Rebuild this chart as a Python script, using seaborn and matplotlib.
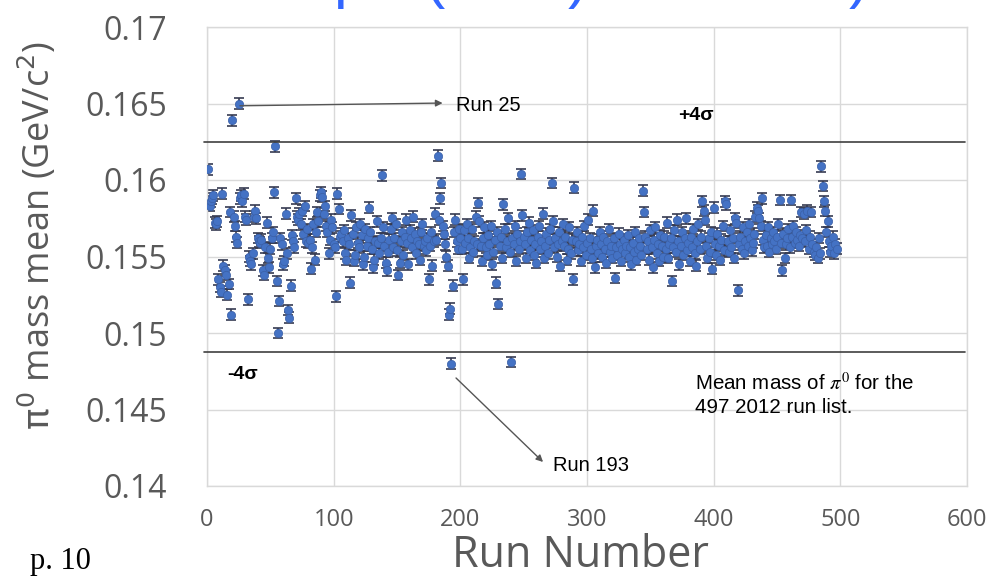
import numpy as np
import pandas as pd
import matplotlib
matplotlib.use("Agg")
import matplotlib.pyplot as plt
import seaborn as sns
from matplotlib.ticker import FuncFormatter

# ---------------- data ----------------
mass_mean = [
    0.1607, 0.1583, 0.1586, 0.1588, 0.1590, 0.1572, 0.1571, 0.1573, 0.1535, 0.1530,
    0.1527, 0.1591, 0.1544, 0.1541, 0.1538, 0.1525, 0.1532, 0.1579, 0.1512, 0.1639,
    0.1576, 0.1570, 0.1563, 0.1559, 0.1650, 0.1588, 0.1590, 0.1586, 0.1591, 0.1576,
    0.1574, 0.1522, 0.1550, 0.1547, 0.1545, 0.1552, 0.1576, 0.1580, 0.1575, 0.1562,
    0.1560, 0.1559, 0.1561, 0.1541, 0.1538, 0.1556, 0.1572, 0.1549, 0.1543, 0.1555,
    0.1562, 0.1566, 0.1592, 0.1622, 0.1534, 0.1500, 0.1521, 0.1562, 0.1558, 0.1545,
    0.1547, 0.1578, 0.1552, 0.1515, 0.1510, 0.1531, 0.1564, 0.1560, 0.1556, 0.1588,
    0.1576, 0.1574, 0.1578, 0.1571, 0.1580, 0.1565, 0.1583, 0.1560, 0.1568, 0.1559,
    0.1561, 0.1542, 0.1556, 0.1571, 0.1548, 0.1566, 0.1579, 0.1573, 0.1590, 0.1592,
    0.1589, 0.1578, 0.1583, 0.1570, 0.1566, 0.1552, 0.1561, 0.1574, 0.1569, 0.1558,
    0.1556, 0.1524, 0.1591, 0.1581, 0.1563, 0.1565, 0.1560, 0.1567, 0.1552, 0.1548,
    0.1562, 0.1558, 0.1533, 0.1577, 0.1565, 0.1547, 0.1551, 0.1569, 0.1559, 0.1556,
    0.1571, 0.1564, 0.1545, 0.1550, 0.1568, 0.1557, 0.1562, 0.1582, 0.1566, 0.1555,
    0.1543, 0.1548, 0.1560, 0.1573, 0.1559, 0.1552, 0.1562, 0.1603, 0.1569, 0.1557,
    0.1546, 0.1541, 0.1553, 0.1561, 0.1568, 0.1575, 0.1556, 0.1562, 0.1571, 0.1554,
    0.1538, 0.1546, 0.1560, 0.1566, 0.1551, 0.1563, 0.1574, 0.1559, 0.1545, 0.1567,
    0.1562, 0.1556, 0.1576, 0.1565, 0.1552, 0.1560, 0.1558, 0.1548, 0.1566, 0.1571,
    0.1557, 0.1560, 0.1554, 0.1562, 0.1535, 0.1557, 0.1566, 0.1544, 0.1560, 0.1578,
    0.1561, 0.1616, 0.1574, 0.1588, 0.1598, 0.1570, 0.1565, 0.1558, 0.1550, 0.1544,
    0.1512, 0.1516, 0.1480, 0.1531, 0.1566, 0.1574, 0.1560, 0.1555, 0.1568, 0.1562,
    0.1555, 0.1535, 0.1567, 0.1559, 0.1571, 0.1562, 0.1549, 0.1556, 0.1568, 0.1553,
    0.1560, 0.1576, 0.1558, 0.1585, 0.1573, 0.1557, 0.1547, 0.1562, 0.1569, 0.1556,
    0.1551, 0.1564, 0.1558, 0.1570, 0.1545, 0.1553, 0.1561, 0.1533, 0.1566, 0.1519,
    0.1557, 0.1563, 0.1549, 0.1584, 0.1568, 0.1556, 0.1560, 0.1575, 0.1553, 0.1481,
    0.1562, 0.1558, 0.1570, 0.1547, 0.1565, 0.1555, 0.1560, 0.1604, 0.1577, 0.1563,
    0.1558, 0.1549, 0.1566, 0.1572, 0.1554, 0.1561, 0.1567, 0.1551, 0.1558, 0.1546,
    0.1563, 0.1570, 0.1555, 0.1560, 0.1578, 0.1549, 0.1557, 0.1565, 0.1552, 0.1561,
    0.1568, 0.1598, 0.1573, 0.1556, 0.1562, 0.1550, 0.1558, 0.1566, 0.1544, 0.1560,
    0.1571, 0.1557, 0.1563, 0.1548, 0.1555, 0.1569, 0.1552, 0.1561, 0.1535, 0.1595,
    0.1560, 0.1566, 0.1554, 0.1558, 0.1547, 0.1563, 0.1556, 0.1570, 0.1551, 0.1559,
    0.1574, 0.1562, 0.1555, 0.1549, 0.1580, 0.1543, 0.1557, 0.1561, 0.1552, 0.1566,
    0.1558, 0.1550, 0.1563, 0.1555, 0.1546, 0.1560, 0.1568, 0.1553, 0.1557, 0.1549,
    0.1562, 0.1536, 0.1556, 0.1551, 0.1565, 0.1558, 0.1547, 0.1555, 0.1561, 0.1552,
    0.1557, 0.1564, 0.1550, 0.1556, 0.1545, 0.1559, 0.1553, 0.1566, 0.1548, 0.1555,
    0.1562, 0.1557, 0.1551, 0.1593, 0.1579, 0.1563, 0.1555, 0.1560, 0.1548, 0.1567,
    0.1556, 0.1543, 0.1561, 0.1569, 0.1552, 0.1558, 0.1547, 0.1564, 0.1557, 0.1550,
    0.1563, 0.1555, 0.1572, 0.1549, 0.1558, 0.1562, 0.1534, 0.1556, 0.1567, 0.1553,
    0.1574, 0.1560, 0.1545, 0.1557, 0.1566, 0.1551, 0.1562, 0.1575, 0.1554, 0.1559,
    0.1547, 0.1563, 0.1556, 0.1568, 0.1552, 0.1544, 0.1560, 0.1571, 0.1555, 0.1563,
    0.1586, 0.1580, 0.1574, 0.1557, 0.1549, 0.1562, 0.1553, 0.1566, 0.1542, 0.1582,
    0.1558, 0.1551, 0.1565, 0.1557, 0.1548, 0.1561, 0.1570, 0.1554, 0.1586, 0.1584,
    0.1560, 0.1553, 0.1567, 0.1556, 0.1562, 0.1549, 0.1575, 0.1572, 0.1528, 0.1558,
    0.1563, 0.1555, 0.1569, 0.1552, 0.1560, 0.1566, 0.1557, 0.1571, 0.1562, 0.1554,
    0.1559, 0.1565, 0.1576, 0.1582, 0.1580, 0.1575, 0.1570, 0.1588, 0.1561, 0.1556,
    0.1564, 0.1557, 0.1569, 0.1553, 0.1562, 0.1558, 0.1566, 0.1560, 0.1555, 0.1563,
    0.1571, 0.1587, 0.1559, 0.1541, 0.1565, 0.1549, 0.1558, 0.1562, 0.1568, 0.1556,
    0.1587, 0.1563, 0.1570, 0.1559, 0.1566, 0.1561, 0.1557, 0.1564, 0.1579, 0.1562,
    0.1578, 0.1560, 0.1567, 0.1580, 0.1555, 0.1563, 0.1579, 0.1558, 0.1553, 0.1551,
    0.1556, 0.1549, 0.1562, 0.1552, 0.1609, 0.1596, 0.1586, 0.1580, 0.1566, 0.1573,
    0.1560, 0.1553, 0.1557, 0.1563, 0.1552, 0.1558, 0.1555,
]
run_number = list(range(1, len(mass_mean) + 1))
mass_err = 0.00035

x_ticks = [0, 100, 200, 300, 400, 500, 600]
y_ticks = [0.14, 0.145, 0.15, 0.155, 0.16, 0.165, 0.17]

band_mean = 0.15560
band_sigma = 0.001717

# ---------------- style ----------------
sns.set_theme(style="white")
plt.rcParams["font.family"] = ["Open Sans", "DejaVu Sans"]

fig = plt.figure(figsize=(9.92, 5.79), dpi=100)
fig.patch.set_facecolor("white")
ax = fig.add_axes([207 / 992, 1 - 486 / 579, 760 / 992, 459 / 579])

df = pd.DataFrame({"run": run_number, "mass": mass_mean})

ax.errorbar(df["run"], df["mass"], yerr=mass_err, fmt="none",
            ecolor="#363b52", elinewidth=1.2, capsize=3.4, capthick=1.2, zorder=2)
sns.scatterplot(data=df, x="run", y="mass", ax=ax, color="#4472C4", s=36,
                edgecolor="#3a5fa6", linewidth=0.5, zorder=3, legend=False)

ax.set_xlim(0, 600)
ax.set_ylim(0.14, 0.17)
ax.set_xticks(x_ticks)
ax.set_yticks(y_ticks)
ax.yaxis.set_major_formatter(FuncFormatter(lambda v, p: f"{v:g}"))
ax.set_axisbelow(True)
ax.grid(True, color="#d9d9d9", lw=1.0)
for sp in ax.spines.values():
    sp.set_color("#d9d9d9")
    sp.set_linewidth(1.0)
ax.tick_params(axis="both", length=0, colors="#595959")
ax.tick_params(axis="y", labelsize=23, pad=29)
ax.tick_params(axis="x", labelsize=17, pad=16)

ax.set_xlabel("Run Number", fontsize=31, color="#595959")
ax.set_ylabel(r"$\mathrm{\pi}^{0}$ mass mean (GeV/c$^{2}$)", fontsize=26,
              color="#595959")
ax.yaxis.label.set_math_fontfamily("dejavusans")
ax.xaxis.set_label_coords(0.491, -0.152)
ax.xaxis.label.set_va("center")
ax.yaxis.set_label_coords(-0.222, 0.545)
ax.yaxis.label.set_va("center")

# +/- 4 sigma lines
for k in (4, -4):
    ax.axhline(band_mean + k * band_sigma, xmin=-0.004, xmax=0.997,
               color="#404040", lw=1.2, clip_on=False, zorder=4)

ann_font = ["Liberation Sans", "DejaVu Sans"]
ax.text(371.8, band_mean + 4 * band_sigma + 0.00175, "+4σ", fontsize=14,
        fontweight="bold", family=ann_font, va="center", ha="left", color="black")
ax.text(15.8, band_mean - 4 * band_sigma - 0.00145, "-4σ", fontsize=14,
        fontweight="bold", family=ann_font, va="center", ha="left", color="black")

# Run 25 annotation
ax.annotate("", xy=(186, 0.16503), xytext=(26, 0.16485),
            arrowprops=dict(arrowstyle="-|>", color="#555555", lw=1.0,
                            mutation_scale=10, shrinkA=0, shrinkB=0))
ax.text(196.6, 0.16484, "Run 25", fontsize=14.5, family=ann_font,
        va="center", ha="left", color="black")

# Run 193 annotation
ax.annotate("", xy=(265.3, 0.14157), xytext=(196.6, 0.14706),
            arrowprops=dict(arrowstyle="-|>", color="#555555", lw=1.0,
                            mutation_scale=10, shrinkA=0, shrinkB=0))
ax.text(273.0, 0.14131, "Run 193", fontsize=14.5, family=ann_font,
        va="center", ha="left", color="black")

# description
t1 = ax.text(385, 0.14673, r"Mean mass of $\pi^0$ for the", fontsize=14.8,
             family=ann_font, va="center", ha="left", color="black")
t1.set_math_fontfamily("stix")
ax.text(385, 0.14516, "497 2012 run list.", fontsize=14.8, family=ann_font,
        va="center", ha="left", color="black")

# page number
fig.text(30 / 992, 1 - 562 / 579, "p. 10", fontsize=22,
         family=["Liberation Serif", "DejaVu Serif"], va="center", ha="left",
         color="black")

# cut-off blue slide title at the very top
for ch, xp in (("p", 333), ("(", 424), (")", 568), (")", 849)):
    fig.text(xp / 992, 1 + 4 / 579, ch, fontsize=44, color="#3366ff",
             family=["Liberation Sans", "DejaVu Sans"], va="baseline", ha="left")

fig.savefig("out.png", dpi=100)
